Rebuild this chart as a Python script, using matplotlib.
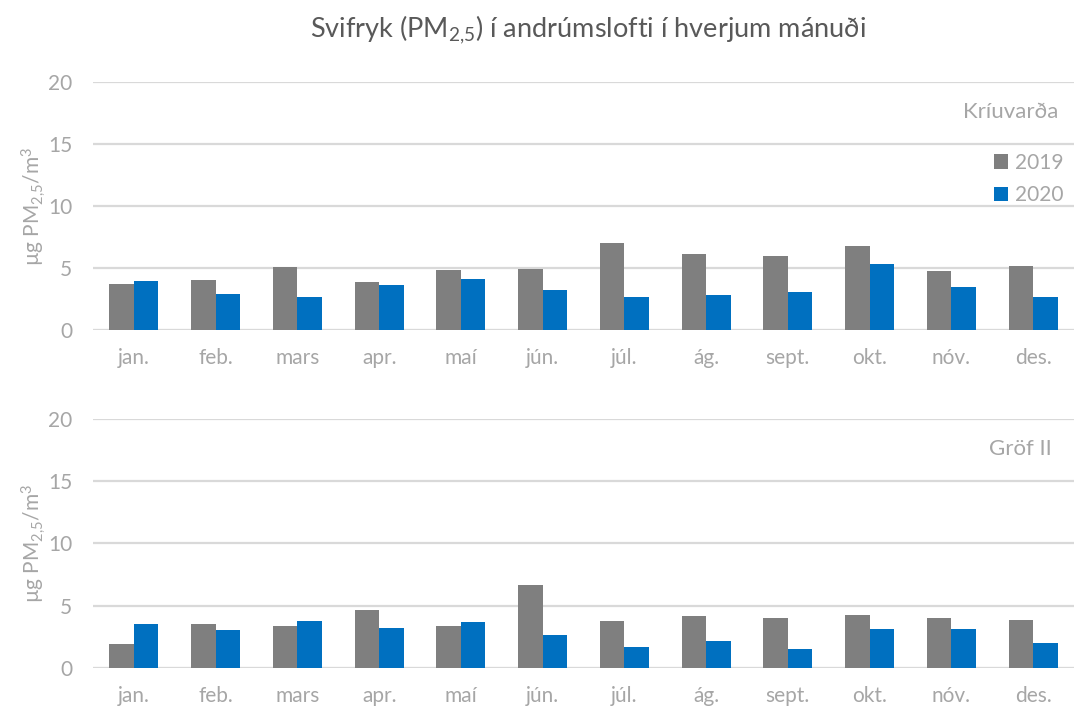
import numpy as np
import matplotlib
matplotlib.use("Agg")
import matplotlib.pyplot as plt

plt.rcParams['font.family'] = ['Lato', 'DejaVu Sans']
plt.rcParams['mathtext.fontset'] = 'custom'
plt.rcParams['mathtext.rm'] = 'Lato'
plt.rcParams['mathtext.it'] = 'Lato:italic'

months = ['jan.', 'feb.', 'mars', 'apr.', 'maí', 'jún.', 'júl.', 'ág.',
          'sept.', 'okt.', 'nóv.', 'des.']
years = ['2019', '2020']

# monthly means, µg/m3
kriuvarda_2019 = [3.7, 4.05, 5.05, 3.85, 4.85, 4.9, 7.05, 6.15, 5.95, 6.75, 4.75, 5.15]
kriuvarda_2020 = [3.95, 2.95, 2.65, 3.6, 4.15, 3.2, 2.7, 2.85, 3.05, 5.3, 3.45, 2.65]
grof_2019 = [1.9, 3.55, 3.35, 4.65, 3.35, 6.65, 3.8, 4.15, 4.0, 4.25, 4.0, 3.85]
grof_2020 = [3.55, 3.05, 3.75, 3.2, 3.7, 2.65, 1.7, 2.2, 1.5, 3.15, 3.1, 2.0]

stations = ['Kríuvarða', 'Gröf II']
colors = ['#7f7f7f', '#0070c0']
label_grey = '#a6a6a6'

fig = plt.figure(figsize=(10.74, 7.10), dpi=100)
ax_top = fig.add_axes([0.0866, 0.535, 0.9134, 0.3495])
ax_bot = fig.add_axes([0.0866, 0.0592, 0.9134, 0.3507])

x = np.arange(len(months))
w = 0.3

panels = [(ax_top, kriuvarda_2019, kriuvarda_2020, stations[0], 0.984),
          (ax_bot, grof_2019, grof_2020, stations[1], 0.977)]

for i, (ax, v19, v20, name, name_x) in enumerate(panels):
    ax.bar(x - w / 2, v19, width=w, color=colors[0], label=years[0], zorder=3)
    ax.bar(x + w / 2, v20, width=w, color=colors[1], label=years[1], zorder=3)
    ax.set_ylim(0, 20)
    ax.set_xlim(-0.5, len(months) - 0.5)
    ax.set_yticks([0, 5, 10, 15, 20])
    ax.set_xticks(x)
    ax.set_xticklabels(months)
    ax.grid(axis='y', color='#d9d9d9', linewidth=1.6, zorder=0)
    ax.axhline(0, color='#d9d9d9', linewidth=2.2, zorder=2)
    for s in ax.spines.values():
        s.set_visible(False)
    ax.tick_params(length=0, labelsize=15, labelcolor=label_grey)
    ax.tick_params(axis='x', pad=13)
    ax.tick_params(axis='y', pad=15)
    ax.set_ylabel('µg PM$_{2{,}5}$/m$^3$', fontsize=15, color=label_grey, labelpad=0)
    ax.text(name_x, 0.88, name, transform=ax.transAxes, ha='right', va='center',
            fontsize=16, color=label_grey)
    if i == 0:
        ax.legend(loc='upper right', bbox_to_anchor=(1.008, 0.79), frameon=False,
                  fontsize=15, labelcolor=label_grey, handlelength=0.7,
                  handleheight=0.7, handletextpad=0.3, labelspacing=0.6)

fig.text(0.548, 0.958, 'Svifryk (PM$_{2{,}5}$) í andrúmslofti í hverjum mánuði',
         ha='center', va='center', fontsize=19.5, color='#595959')

fig.savefig('out.png', dpi=100)
